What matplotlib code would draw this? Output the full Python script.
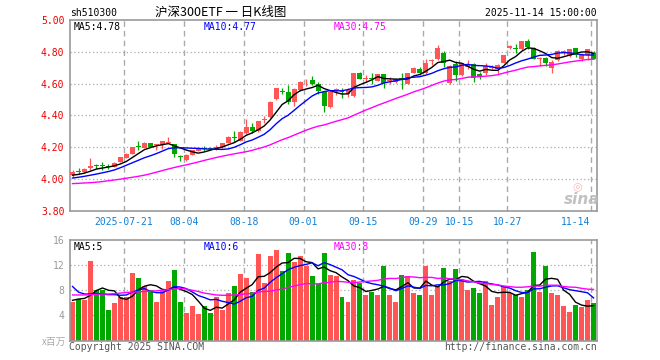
import matplotlib
matplotlib.use('Agg')
import matplotlib.pyplot as plt
import matplotlib.transforms as mtransforms
import numpy as np
import pandas as pd

# ---------------- data ----------------
dates = (
    ['2025-07-%02d' % d for d in [8, 9, 10, 11, 14, 15, 16, 17, 18, 21, 22, 23, 24, 25, 28, 29, 30, 31]] +
    ['2025-08-%02d' % d for d in [1, 4, 5, 6, 7, 8, 11, 12, 13, 14, 15, 18, 19, 20, 21, 22, 25, 26, 27, 28, 29]] +
    ['2025-09-%02d' % d for d in [1, 2, 3, 4, 5, 8, 9, 10, 11, 12, 15, 16, 17, 18, 19, 22, 23, 24, 25, 26, 29, 30]] +
    ['2025-10-%02d' % d for d in [9, 10, 13, 14, 15, 16, 17, 20, 21, 22, 23, 24, 27, 28, 29, 30, 31]] +
    ['2025-11-%02d' % d for d in [3, 4, 5, 6, 7, 10, 11, 12, 13, 14]]
)

open_ = [4.025, 4.048, 4.045, 4.068, 4.082, 4.083, 4.080, 4.078, 4.110, 4.135,
         4.158, 4.205, 4.198, 4.225, 4.212, 4.215, 4.230, 4.220, 4.140, 4.120,
         4.152, 4.180, 4.195, 4.195, 4.185, 4.200, 4.230, 4.262, 4.242, 4.290,
         4.330, 4.300, 4.370, 4.388, 4.502, 4.553, 4.548, 4.482, 4.560, 4.620,
         4.620, 4.596, 4.548, 4.454, 4.560, 4.552, 4.535, 4.523, 4.665, 4.628,
         4.636, 4.617, 4.658, 4.615, 4.610, 4.632, 4.600, 4.669, 4.690, 4.665,
         4.744, 4.758, 4.790, 4.606, 4.725, 4.654, 4.702, 4.721, 4.660, 4.665,
         4.698, 4.690, 4.731, 4.821, 4.822, 4.815, 4.871, 4.825, 4.758, 4.763,
         4.700, 4.748, 4.800, 4.773, 4.821, 4.756, 4.783, 4.790]
high_ = [4.055, 4.072, 4.070, 4.132, 4.098, 4.105, 4.095, 4.105, 4.140, 4.165,
         4.205, 4.240, 4.232, 4.228, 4.220, 4.242, 4.268, 4.222, 4.150, 4.155,
         4.185, 4.198, 4.210, 4.200, 4.212, 4.230, 4.270, 4.300, 4.300, 4.380,
         4.355, 4.368, 4.395, 4.490, 4.575, 4.575, 4.590, 4.570, 4.615, 4.628,
         4.648, 4.610, 4.555, 4.552, 4.575, 4.570, 4.575, 4.668, 4.673, 4.653,
         4.665, 4.660, 4.660, 4.640, 4.630, 4.665, 4.670, 4.705, 4.705, 4.756,
         4.752, 4.842, 4.805, 4.715, 4.740, 4.732, 4.748, 4.730, 4.675, 4.730,
         4.720, 4.722, 4.780, 4.842, 4.850, 4.867, 4.880, 4.828, 4.765, 4.768,
         4.748, 4.812, 4.812, 4.818, 4.825, 4.790, 4.820, 4.805]
low_ = [4.015, 4.030, 4.040, 4.060, 4.065, 4.060, 4.065, 4.075, 4.108, 4.133,
        4.155, 4.185, 4.195, 4.200, 4.185, 4.190, 4.225, 4.140, 4.112, 4.115,
        4.150, 4.175, 4.180, 4.185, 4.183, 4.198, 4.228, 4.235, 4.240, 4.285,
        4.290, 4.295, 4.355, 4.385, 4.500, 4.533, 4.475, 4.460, 4.555, 4.588,
        4.590, 4.535, 4.420, 4.450, 4.528, 4.510, 4.515, 4.515, 4.628, 4.610,
        4.595, 4.615, 4.570, 4.595, 4.605, 4.565, 4.598, 4.665, 4.655, 4.660,
        4.720, 4.750, 4.705, 4.600, 4.615, 4.650, 4.695, 4.610, 4.630, 4.655,
        4.690, 4.660, 4.728, 4.815, 4.795, 4.812, 4.820, 4.755, 4.710, 4.708,
        4.667, 4.745, 4.778, 4.770, 4.765, 4.740, 4.750, 4.752]
close_ = [4.048, 4.045, 4.065, 4.080, 4.080, 4.080, 4.077, 4.103, 4.138, 4.160,
          4.203, 4.200, 4.225, 4.203, 4.216, 4.238, 4.235, 4.155, 4.137, 4.150,
          4.183, 4.193, 4.192, 4.192, 4.203, 4.228, 4.266, 4.258, 4.295, 4.330,
          4.305, 4.365, 4.375, 4.485, 4.571, 4.550, 4.482, 4.565, 4.610, 4.624,
          4.597, 4.555, 4.460, 4.548, 4.563, 4.548, 4.560, 4.665, 4.632, 4.635,
          4.632, 4.658, 4.606, 4.620, 4.627, 4.628, 4.668, 4.700, 4.665, 4.730,
          4.748, 4.821, 4.731, 4.708, 4.655, 4.728, 4.725, 4.636, 4.650, 4.710,
          4.702, 4.720, 4.777, 4.835, 4.818, 4.865, 4.831, 4.758, 4.762, 4.731,
          4.738, 4.808, 4.805, 4.815, 4.783, 4.783, 4.815, 4.758]
volume = [6.1, 6.6, 6.4, 12.6, 8.1, 8.1, 4.8, 5.9, 6.9, 7.0,
          10.7, 9.9, 8.7, 8.1, 6.1, 7.9, 9.4, 11.2, 6.1, 4.4,
          5.5, 4.2, 5.5, 4.4, 6.9, 4.8, 7.5, 8.7, 10.6, 10.0,
          7.7, 13.7, 9.1, 13.5, 14.4, 11.0, 14.0, 12.5, 13.4, 11.8,
          10.3, 9.0, 14.0, 10.5, 10.2, 6.9, 6.1, 9.7, 9.1, 7.2,
          7.8, 7.2, 11.8, 7.3, 6.2, 10.5, 10.2, 7.6, 7.2, 11.8,
          7.3, 8.7, 11.6, 9.5, 11.4, 9.8, 8.1, 8.3, 7.6, 9.5,
          5.6, 7.0, 8.7, 7.5, 7.2, 6.9, 8.1, 14.1, 7.8, 11.9,
          7.6, 7.3, 5.5, 4.5, 5.6, 5.3, 6.4, 5.9]

# moving-average values at the start of the window
ma5_head = [4.025, 4.030, 4.038, 4.050]
ma10_head = [4.007, 4.012, 4.018, 4.025, 4.032, 4.040, 4.048, 4.058, 4.072]
ma30_head = [3.972, 3.974, 3.976, 3.978, 3.981, 3.985, 3.990, 3.995, 4.000, 4.006,
             4.012, 4.018, 4.025, 4.034, 4.044, 4.054, 4.064, 4.073, 4.082, 4.090,
             4.099, 4.108, 4.118, 4.127, 4.136, 4.144, 4.152, 4.159, 4.166]
vma5_head = [6.4, 6.6, 6.7, 7.2]
vma10_head = [8.6, 7.7, 7.4, 7.4, 7.5, 7.4, 7.3, 7.3, 7.2]
vma30_head = [7.25, 7.25, 7.25, 7.3, 7.35, 7.4, 7.4, 7.45, 7.55, 7.65,
              7.7, 7.75, 7.8, 7.85, 7.9, 8.0, 8.1, 8.2, 8.3, 8.2,
              8.0, 7.8, 7.55, 7.4, 7.25, 7.2, 7.2, 7.25, 7.3]

tick_dates = ['2025-07-21', '2025-08-04', '2025-08-18', '2025-09-01', '2025-09-15',
              '2025-09-29', '2025-10-15', '2025-10-27', '2025-11-14']
tick_labels = ['2025-07-21', '08-04', '08-18', '09-01', '09-15', '09-29', '10-15', '10-27', '11-14']
price_ticks = [3.80, 4.00, 4.20, 4.40, 4.60, 4.80, 5.00]
vol_ticks = [4, 8, 12, 16]
price_legend = ['MA5:4.78', 'MA10:4.77', 'MA30:4.75']
vol_legend = ['MA5:5', 'MA10:6', 'MA30:8']

# ---------------- style ----------------
RED = '#ff5555'
GREEN = '#00a800'
GRID = '#aaaaaa'
FRAME = '#999999'
MONO = 'DejaVu Sans Mono'
plt.rcParams['font.family'] = [MONO, 'Noto Sans CJK SC']

W, H = 660, 360
fig = plt.figure(figsize=(W / 100, H / 100), dpi=100)
fig.patch.set_facecolor('white')


def rect(l, t, r, b):
    return [l / W, 1 - b / H, (r - l) / W, (b - t) / H]


def ft(x, y, s, **kw):
    kw.setdefault('va', 'center')
    kw.setdefault('fontsize', 7)
    fig.text(x / W, 1 - y / H, s, **kw)


ax = fig.add_axes(rect(70, 20, 597, 211))
axv = fig.add_axes(rect(70, 240, 597, 340.5))

o = np.array(open_); h = np.array(high_); l = np.array(low_); c = np.array(close_)
v = np.array(volume)
n = len(c)
x = np.arange(n) + 0.42
cols = np.where(c >= o, RED, GREEN)
tick_pos = [dates.index(d) for d in tick_dates]


def with_head(series, window, head):
    arr = pd.Series(series).rolling(window).mean().to_numpy()
    arr[:len(head)] = head
    return arr


ma5 = with_head(c, 5, ma5_head)
ma10 = with_head(c, 10, ma10_head)
ma30 = with_head(c, 30, ma30_head)
vma5 = with_head(v, 5, vma5_head)
vma10 = with_head(v, 10, vma10_head)
vma30 = with_head(v, 30, vma30_head)

for a in (ax, axv):
    a.set_xlim(0, n)
    for s in a.spines.values():
        s.set_color(FRAME)
        s.set_linewidth(1.2)
    a.set_xticks([])
    for p in tick_pos:
        a.axvline(p, color=GRID, lw=1.0, ls=(0, (4, 3)), zorder=0)
    a.tick_params(axis='y', length=0, pad=4, labelsize=7)

# price panel
ax.set_ylim(3.8, 5.0)
ax.set_yticks(price_ticks)
ax.set_yticklabels(['%.2f' % t for t in price_ticks], color='#ee0000', fontfamily=MONO)
for t in price_ticks[1:-1]:
    ax.axhline(t, color=GRID, lw=0.9, ls=(0, (1, 2)), zorder=0)

ax.vlines(x, l, h, colors=cols, lw=0.9, zorder=2)
ax.bar(x, np.maximum(np.abs(c - o), 0.006), width=0.83, bottom=np.minimum(o, c),
       color=cols, linewidth=0, zorder=3)
ax.plot(x, ma5, color='black', lw=1.0, zorder=4)
ax.plot(x, ma10, color='#0000ff', lw=1.0, zorder=4)
ax.plot(x, ma30, color='#ff00ff', lw=1.0, zorder=4)

trans = mtransforms.blended_transform_factory(ax.transData, ax.transAxes)
for p, lab in zip(tick_pos, tick_labels):
    if p == n - 1:
        ax.text(p - 0.1, -11 / 191, lab, transform=trans, ha='right', va='center',
                color='#1080d8', fontsize=7, fontfamily=MONO)
    else:
        ax.text(p, -11 / 191, lab, transform=trans, ha='center', va='center',
                color='#1080d8', fontsize=7, fontfamily=MONO)

# volume panel
axv.set_ylim(0, 16)
axv.set_yticks(vol_ticks)
axv.set_yticklabels([str(t) for t in vol_ticks], color='#999999', fontfamily=MONO)
for t in vol_ticks[:-1]:
    axv.axhline(t, color=GRID, lw=0.9, ls=(0, (1, 2)), zorder=0)
axv.bar(x, v, width=0.83, color=cols, linewidth=0, zorder=2)
axv.plot(x, vma5, color='black', lw=1.0, zorder=4)
axv.plot(x, vma10, color='#0000ff', lw=1.0, zorder=4)
axv.plot(x, vma30, color='#ff00ff', lw=1.0, zorder=4)

# texts
ft(70, 13, 'sh510300', color='black', fontfamily=MONO)
ft(221, 12, '沪深300ETF 一 日K线图', color='black', fontsize=9, ha='center',
   fontfamily=['Noto Sans CJK SC', MONO])
ft(597, 13, '2025-11-14 15:00:00', color='black', ha='right', fontfamily=MONO)
leg_cols = ['black', '#0000ff', '#ff00ff']
for xx, s, cc in zip([74, 204, 334], price_legend, leg_cols):
    ft(xx, 27, s, color=cc, fontfamily=MONO)
for xx, s, cc in zip([74, 204, 334], vol_legend, leg_cols):
    ft(xx, 247, s, color=cc, fontfamily=MONO)
ft(66, 342, 'x百万', color='#aaaaaa', ha='right', fontsize=7,
   fontfamily=['Noto Sans CJK SC', MONO])
ft(69, 347, 'Copyright 2025 SINA.COM', color='#555555', fontfamily=MONO)
ft(597, 347, 'http://finance.sina.com.cn', color='#555555', ha='right', fontfamily=MONO)

# sina watermark
ft(582, 199, 'sina', color='#bbbbbb', ha='center', fontsize=11, fontweight='bold',
   fontstyle='italic', fontfamily='DejaVu Sans', alpha=0.9)
ft(577, 186, '◎', color='#ff9999', ha='center', fontsize=8, fontfamily='DejaVu Sans', alpha=0.7)

fig.savefig('out.png', dpi=100, facecolor='white')
